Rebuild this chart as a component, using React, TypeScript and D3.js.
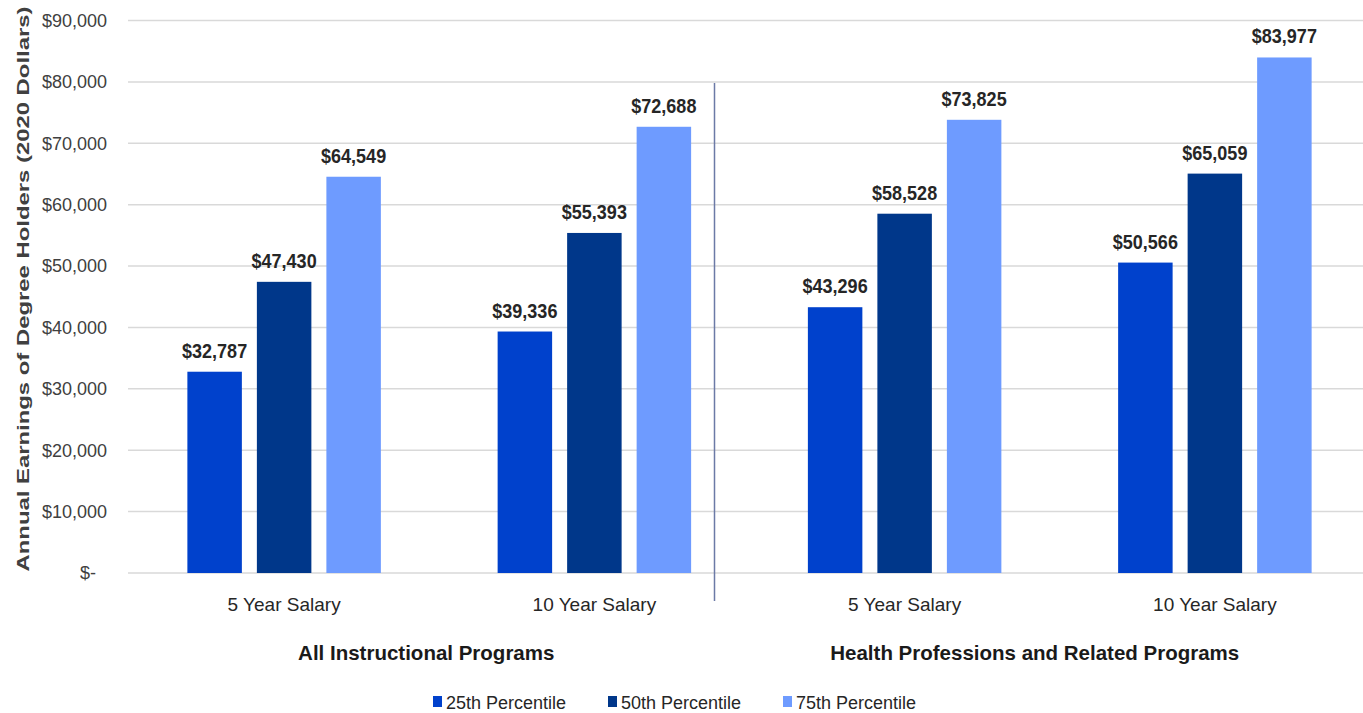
import React from "react";
import * as d3 from "d3";

const categoryIds = ["all-5", "all-10", "hp-5", "hp-10"];
const categoryLabels = ["5 Year Salary", "10 Year Salary", "5 Year Salary", "10 Year Salary"];
const groupLabels = ["All Instructional Programs", "Health Professions and Related Programs"];
const seriesNames = ["25th Percentile", "50th Percentile", "75th Percentile"];
const p25 = [32787, 39336, 43296, 50566];
const p50 = [47430, 55393, 58528, 65059];
const p75 = [64549, 72688, 73825, 83977];
const yTicks = [0, 10000, 20000, 30000, 40000, 50000, 60000, 70000, 80000, 90000];
const colors = ["#0041cc", "#00378a", "#6e9bff"];
const yTitle = "Annual Earnings of Degree Holders (2020 Dollars)";

const W = 1363;
const H = 713;
const sans = "'Liberation Sans', Arial, sans-serif";

export default function App() {
  const seriesValues = [p25, p50, p75];
  const y = d3.scaleLinear().domain([0, 90000]).range([573, 20.5]);
  const x0 = d3.scaleBand<string>().domain(categoryIds).range([129, 1370]).padding(0);
  const x1 = d3
    .scaleBand<string>()
    .domain(seriesNames)
    .range([0, x0.bandwidth()])
    .paddingInner(0.216)
    .paddingOuter(0.84);
  const fmt = d3.format(",");
  const tickLabel = (v: number) => (v === 0 ? "$-" : "$" + fmt(v));
  const cx = (id: string) => (x0(id) as number) + x0.bandwidth() / 2;
  const groupX = [
    (cx(categoryIds[0]) + cx(categoryIds[1])) / 2 - 13,
    (cx(categoryIds[2]) + cx(categoryIds[3])) / 2 - 25,
  ];
  const dividerX = (x0(categoryIds[2]) as number) - 35;

  return (
    <svg
      width={W}
      height={H}
      style={{ position: "absolute", left: 0, top: 0, display: "block", background: "#fff" }}
    >
      {/* gridlines */}
      {yTicks.map((t) => (
        <line key={t} x1={128} x2={W} y1={y(t)} y2={y(t)} stroke="#d9d9d9" strokeWidth={1.5} />
      ))}
      {/* y tick labels */}
      {yTicks.map((t) => (
        <text
          key={"l" + t}
          x={t === 0 ? 96 : 107}
          y={y(t)}
          dy="0.35em"
          textAnchor="end"
          fontFamily={sans}
          fontSize={18}
          fill="#404040"
        >
          {tickLabel(t)}
        </text>
      ))}
      {/* y title */}
      <text
        transform={`translate(29, ${289}) rotate(-90)`}
        textAnchor="middle"
        fontFamily={sans}
        fontWeight="bold"
        fontSize={17}
        textLength={565}
        lengthAdjust="spacingAndGlyphs"
        fill="#404040"
      >
        {yTitle}
      </text>
      {/* bars */}
      {categoryIds.map((id, ci) => (
        <g key={id} transform={`translate(${x0(id)},0)`}>
          {seriesNames.map((s, si) => {
            const v = seriesValues[si][ci];
            const bx = x1(s) as number;
            const lx = bx + x1.bandwidth() / 2;
            return (
              <g key={s}>
                <rect x={bx} y={y(v)} width={x1.bandwidth()} height={y(0) - y(v)} fill={colors[si]} />
                <text
                  transform={`translate(${lx},${y(v) - 14}) scale(0.9,1)`}
                  textAnchor="middle"
                  fontFamily={sans}
                  fontWeight="bold"
                  fontSize={20}
                  fill="#262626"
                >
                  {"$" + fmt(v)}
                </text>
              </g>
            );
          })}
        </g>
      ))}
      {/* divider */}
      <line x1={dividerX} x2={dividerX} y1={83} y2={601} stroke="#6b7aa6" strokeWidth={1.5} />
      {/* category labels */}
      {categoryIds.map((id, i) => (
        <text
          key={"c" + id}
          x={cx(id)}
          y={611}
          textAnchor="middle"
          fontFamily={sans}
          fontSize={19}
          fill="#262626"
        >
          {categoryLabels[i]}
        </text>
      ))}
      {/* group labels */}
      {groupLabels.map((g, i) => (
        <text
          key={g}
          x={groupX[i]}
          y={660}
          textAnchor="middle"
          fontFamily={sans}
          fontWeight="bold"
          fontSize={20.5}
          fill="#1a1a1a"
        >
          {g}
        </text>
      ))}
      {/* legend */}
      {seriesNames.map((s, i) => (
        <g key={"lg" + s} transform={`translate(${433 + i * 175},0)`}>
          <rect x={0} y={696} width={9} height={11} fill={colors[i]} />
          <text x={13} y={709} fontFamily={sans} fontSize={18} fill="#262626">
            {s}
          </text>
        </g>
      ))}
    </svg>
  );
}
